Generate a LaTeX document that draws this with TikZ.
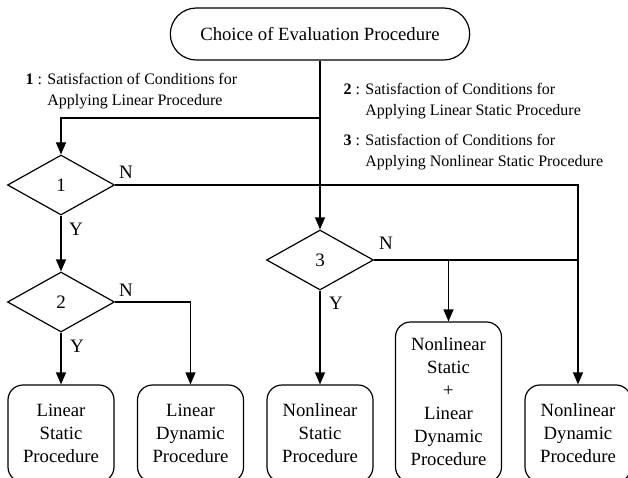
\documentclass[tikz,border=0pt]{standalone}
\usepackage{fontspec}
\setmainfont{Liberation Serif}
\usetikzlibrary{arrows, shapes, shapes.misc, positioning, arrows.meta, calc}
\newcommand{\branch}[2]
{
	\draw[-{Triangle[length=12pt, width=10pt]}] (#1) -| (#2.north)
}
\newcommand{\cond}[3]{\textbf{#1} : #2\\\hphantom{\textbf{#1} : }#3}

\begin{document}
\begin{tikzpicture}[x=1pt, y=-1pt, line width=1.2pt,
	decision/.style={shape=diamond, draw=black,
		minimum width=107pt,
		minimum height=60pt, inner sep=0pt,
		font=\fontsize{19}{23}\selectfont},
	procedure/.style={shape=rectangle, draw=black,
		rounded corners=15pt,
		minimum width=106pt, align=center,
		font=\fontsize{18.7}{23}\selectfont},
	note/.style={anchor=west, inner sep=0pt, align=left,
		font=\fontsize{16}{21}\selectfont},
	yn/.style={inner sep=0pt, font=\fontsize{19}{23}\selectfont}]

	\useasboundingbox (0, 0) rectangle (628, 478);

	\node[shape=rounded rectangle, draw=black, minimum width=306pt, minimum height=52pt,
	font=\fontsize{18.7}{23}\selectfont] at (320, 34) (Top){Choice of Evaluation Procedure};

	\node[decision] at (61, 185) (D1){1};
	\node[decision] at (61, 302) (D2){2};
	\node[decision] at (320, 260) (D3){3};

	\node[procedure, minimum height=97pt] at (61, 433.5) (P1){Linear\\Static\\Procedure};
	\node[procedure, minimum height=97pt] at (190.5, 433.5) (P2){Linear\\Dynamic\\Procedure};
	\node[procedure, minimum height=97pt] at (320, 433.5) (P3){Nonlinear\\Static\\Procedure};
	\node[procedure, minimum height=160pt] at (448.5, 402) (P4){Nonlinear\\Static\\+\\Linear\\Dynamic\\Procedure};
	\node[procedure, minimum height=97pt] at (578, 433.5) (P5){Nonlinear\\Dynamic\\Procedure};

	\node[note] at (25, 91.5) (C1){\cond{1}{Satisfaction of Conditions for}{Applying Linear Procedure}};
	\node[note] at (343, 101) (C2){\cond{2}{Satisfaction of Conditions for}{Applying Linear Static Procedure}};
	\node[note] at (343, 152) (C3){\cond{3}{Satisfaction of Conditions for}{Applying Nonlinear Static Procedure}};

	\coordinate (J1) at (320, 118);
	\draw[-{Triangle[length=12pt, width=10pt]}] (Top.south) -- (D3.north);
	\branch{J1}{D1};
	\branch{D1.east}{P5};
	\branch{D1.south}{D2};
	\branch{D2.south}{P1};
	\branch{D2.east}{P2};
	\branch{D3.south}{P3};
	\draw (D3.east) -- (D3.east -| P5.north);
	\draw[-{Triangle[length=12pt, width=10pt]}] (D3.east -| P4.north) -- (P4.north);

	\node[yn] at (126, 172) (N1){N};
	\node[yn] at (76, 229) (Y1){Y};
	\node[yn] at (126, 290) (N2){N};
	\node[yn] at (77, 346) (Y2){Y};
	\node[yn] at (386, 243) (N3){N};
	\node[yn] at (336, 303) (Y3){Y};
\end{tikzpicture}
\end{document}
